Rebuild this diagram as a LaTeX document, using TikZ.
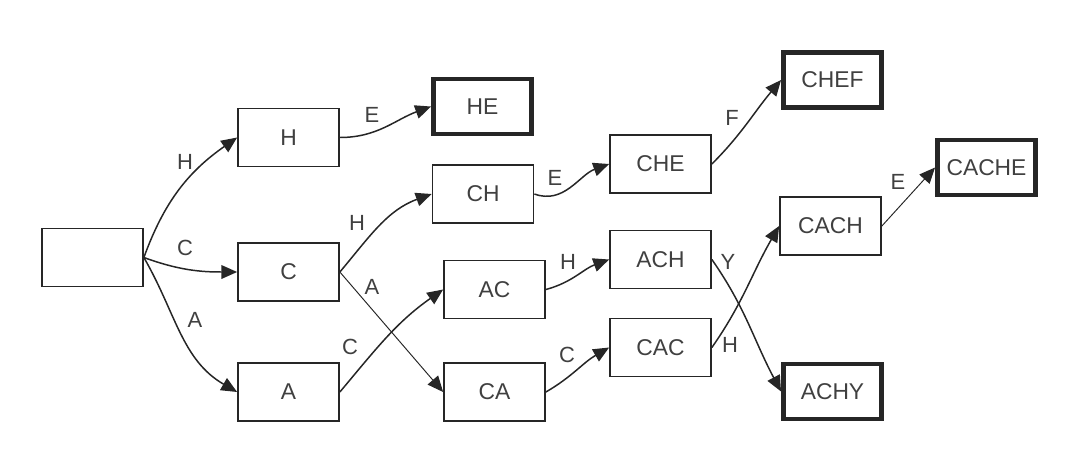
\documentclass[tikz,border=0pt]{standalone}
\usepackage{fontspec}
\setmainfont{Liberation Sans}
\usetikzlibrary{arrows.meta}
\begin{document}
\begin{tikzpicture}[x=0.02cm,y=0.02cm,
  state/.style={draw=black!85,line width=1pt,rectangle,minimum width=2.02cm,minimum height=1.16cm,inner sep=0pt,font=\fontsize{13}{15}\selectfont,text=black!75},
  final/.style={state,line width=2.8pt,minimum width=1.96cm,minimum height=1.1cm},
  edge/.style={draw=black!85,line width=0.85pt,-{Triangle[length=9pt,width=7.8pt]}},
  thinedge/.style={edge,line width=0.55pt},
  lab/.style={font=\fontsize{12.5}{14}\selectfont,text=black!75,inner sep=0pt}]
\useasboundingbox (0,0) rectangle (1082,-460);
\node[state] (r) at (92.5,-257.5) {};
\node[state] (H) at (288.5,-137.5) {H};
\node[state] (C) at (288.5,-272) {C};
\node[state] (A) at (288.5,-392) {A};
\node[final] (HE) at (482.5,-106.5) {HE};
\node[state] (CH) at (483,-194) {CH};
\node[state] (AC) at (494.5,-289.5) {AC};
\node[state] (CA) at (494.5,-392) {CA};
\node[state] (CHE) at (660.5,-164) {CHE};
\node[state] (ACH) at (660.5,-259.5) {ACH};
\node[state] (CAC) at (660.5,-347.5) {CAC};
\node[final] (CHEF) at (832.5,-80) {CHEF};
\node[state] (CACH) at (830.5,-226) {CACH};
\node[final] (CACHE) at (986.5,-167.5) {CACHE};
\node[final] (ACHY) at (832.5,-391.5) {ACHY};
% edges
\draw[edge] (r.east) to[out=70,in=215] (H.west);
\draw[edge] (r.east) to[out=-20,in=180] (C.west);
\draw[edge] (r.east) to[out=-60,in=150] (A.west);
\draw[edge] (H.east) to[out=0,in=200] (HE.west);
\draw[edge] (C.east) to[out=50,in=200] (CH.west);
\draw[thinedge] (C.east) -- (CA.west);
\draw[edge] (A.east) to[out=50,in=215] (AC.west);
\draw[edge] (CH.east) to[out=-20,in=200] (CHE.west);
\draw[edge] (AC.east) to[out=15,in=200] (ACH.west);
\draw[edge] (CA.east) to[out=30,in=210] (CAC.west);
\draw[edge] (CHE.east) to[out=45,in=230] (CHEF.west);
\draw[edge] (ACH.east) to[out=-55,in=118] (ACHY.west);
\draw[edge] (CAC.east) to[out=55,in=240] (CACH.west);
\draw[thinedge] (CACH.east) -- (CACHE.west);
% labels
\node[lab] (l1) at (185,-162) {H};
\node[lab] (l2) at (185,-248) {C};
\node[lab] (l3) at (195,-320) {A};
\node[lab] (l4) at (372,-115) {E};
\node[lab] (l5) at (357,-223) {H};
\node[lab] (l6) at (372,-287) {A};
\node[lab] (l7) at (350,-347) {C};
\node[lab] (l8) at (555,-178) {E};
\node[lab] (l9) at (568,-262) {H};
\node[lab] (l10) at (567,-355) {C};
\node[lab] (l11) at (732,-118) {F};
\node[lab] (l12) at (728,-262) {Y};
\node[lab] (l13) at (730,-345) {H};
\node[lab] (l14) at (898,-182) {E};
\end{tikzpicture}
\end{document}
